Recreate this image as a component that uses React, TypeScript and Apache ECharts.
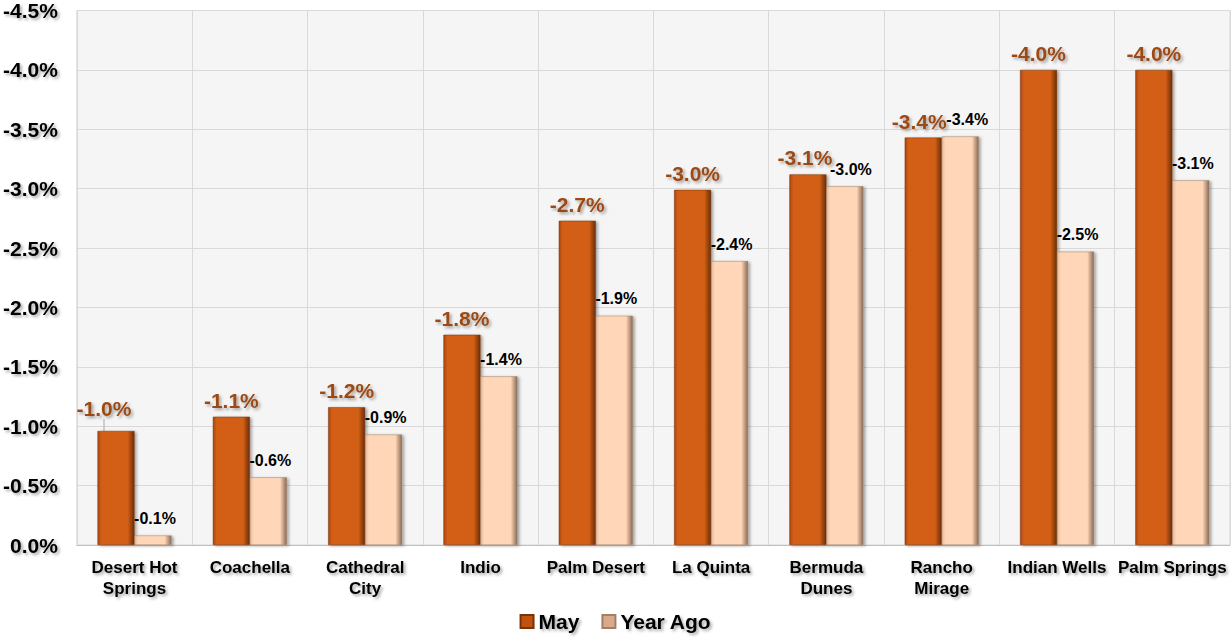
import React, { useEffect, useRef } from "react";
import * as echarts from "echarts";

const categories = [
  "Desert Hot\nSprings",
  "Coachella",
  "Cathedral\nCity",
  "Indio",
  "Palm Desert",
  "La Quinta",
  "Bermuda\nDunes",
  "Rancho\nMirage",
  "Indian Wells",
  "Palm Springs",
];
const mayValues = [-0.96, -1.08, -1.16, -1.77, -2.73, -2.99, -3.12, -3.43, -4.0, -4.0];
const yearAgoValues = [-0.08, -0.57, -0.93, -1.42, -1.93, -2.39, -3.02, -3.44, -2.47, -3.07];
const yTicks = { min: -4.5, max: 0, interval: 0.5 };

const shadowText = {
  textShadowColor: "rgba(0,0,0,0.35)",
  textShadowBlur: 3,
  textShadowOffsetX: 2,
  textShadowOffsetY: 2,
};

export default function App() {
  const ref = useRef<HTMLDivElement>(null);
  useEffect(() => {
    if (!ref.current) return;
    const chart = echarts.init(ref.current, null, { renderer: "svg" });
    const mayColor = new echarts.graphic.LinearGradient(0, 0, 1, 0, [
      { offset: 0, color: "#A9470D" },
      { offset: 0.1, color: "#D35F15" },
      { offset: 0.82, color: "#D35F15" },
      { offset: 1, color: "#6B2E08" },
    ]);
    const yaColor = new echarts.graphic.LinearGradient(0, 0, 1, 0, [
      { offset: 0, color: "#E6BA9A" },
      { offset: 0.1, color: "#FFD6B7" },
      { offset: 0.82, color: "#FFD6B7" },
      { offset: 1, color: "#8A6A55" },
    ]);
    chart.setOption({
      animation: false,
      backgroundColor: "#ffffff",
      textStyle: { fontFamily: "Liberation Sans, Arial, sans-serif" },
      grid: {
        left: 76,
        right: 1,
        top: 10,
        bottom: 92,
        show: true,
        backgroundColor: "#F5F5F5",
        borderColor: "#D9D9D9",
        borderWidth: 1,
      },
      legend: {
        bottom: 0,
        left: "center",
        itemWidth: 13,
        itemHeight: 13,
        itemGap: 22,
        icon: "rect",
        textStyle: {
          fontSize: 21,
          fontWeight: "bold",
          color: "#000",
          fontFamily: "Liberation Sans, Arial, sans-serif",
          ...shadowText,
        },
        data: [
          { name: "May", itemStyle: { color: "#C0520F" } },
          { name: "Year Ago", itemStyle: { color: "#D9A989" } },
        ],
      },
      xAxis: {
        type: "category",
        data: categories,
        axisTick: { show: false },
        axisLine: { lineStyle: { color: "#BFBFBF" } },
        splitLine: { show: true, lineStyle: { color: "#D9D9D9" } },
        axisLabel: {
          interval: 0,
          fontSize: 17,
          fontWeight: "bold",
          color: "#000",
          margin: 12,
          lineHeight: 21,
          ...shadowText,
        },
      },
      yAxis: {
        type: "value",
        inverse: true,
        min: yTicks.min,
        max: yTicks.max,
        interval: yTicks.interval,
        axisLine: { show: false },
        axisTick: { show: false },
        splitLine: { lineStyle: { color: "#D9D9D9" } },
        axisLabel: {
          fontSize: 21,
          fontWeight: "bold",
          color: "#000",
          margin: 19,
          formatter: (v: number) => v.toFixed(1) + "%",
          ...shadowText,
        },
      },
      series: [
        {
          name: "May",
          type: "bar",
          barWidth: 37,
          barGap: "0%",
          data: mayValues.map((v, i) =>
            i === 0
              ? { value: v, labelLine: { show: true, lineStyle: { color: "#A6A6A6", width: 1 } } }
              : { value: v, labelLine: { show: false } }
          ),
          itemStyle: {
            color: mayColor,
            borderColor: "#7A3208",
            borderWidth: 0.5,
            shadowColor: "rgba(0,0,0,0.35)",
            shadowBlur: 3,
            shadowOffsetX: 2,
            shadowOffsetY: 1,
          },
          label: {
            show: true,
            position: "top",
            distance: 6,
            fontSize: 21,
            fontWeight: "bold",
            color: "#9C4A14",
            formatter: (p: any) => p.value.toFixed(1) + "%",
            ...shadowText,
          },
          labelLine: { show: false },
          labelLayout: (p: any) =>
            p.dataIndex === 0
              ? { dx: -12, dy: -6 }
              : p.dataIndex === 6
              ? { dx: -3 }
              : p.dataIndex === 7
              ? { dx: -4 }
              : {},
        },
        {
          name: "Year Ago",
          type: "bar",
          barWidth: 37,
          data: yearAgoValues,
          itemStyle: {
            color: yaColor,
            borderColor: "#A08068",
            borderWidth: 0.5,
            shadowColor: "rgba(0,0,0,0.35)",
            shadowBlur: 3,
            shadowOffsetX: 2,
            shadowOffsetY: 1,
          },
          label: {
            show: true,
            position: "top",
            distance: 9,
            fontSize: 16,
            fontWeight: "bold",
            color: "#000",
            formatter: (p: any) => p.value.toFixed(1) + "%",
          },
          labelLayout: (p: any) =>
            p.dataIndex === 6 ? { dx: 6 } : p.dataIndex === 7 ? { dx: 7 } : { dx: 2 },
        },
      ],
    });
    return () => chart.dispose();
  }, []);
  return (
    <div
      ref={ref}
      style={{ position: "fixed", left: 0, top: 0, width: 1231, height: 637 }}
    />
  );
}
